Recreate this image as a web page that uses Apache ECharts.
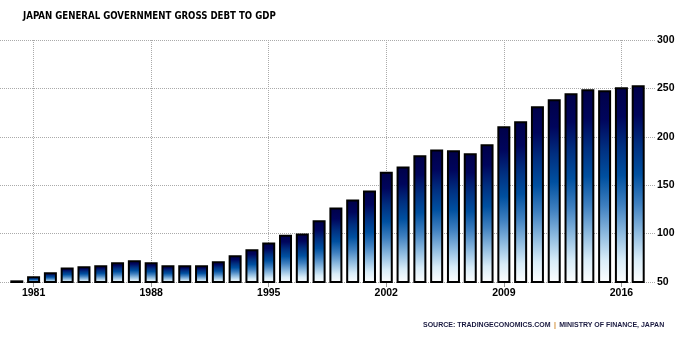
<!DOCTYPE html>
<html><head><meta charset="utf-8">
<script src="https://cdn.jsdelivr.net/npm/echarts@6/dist/echarts.min.js"></script>
<style>html,body{margin:0;padding:0;background:#fff}#c{width:690px;height:340px}</style>
</head><body><div id="c"></div>
<script>
const years = ['1979','1980','1981','1982','1983','1984','1985','1986','1987','1988','1989','1990','1991','1992','1993','1994','1995','1996','1997','1998','1999','2000','2001','2002','2003','2004','2005','2006','2007','2008','2009','2010','2011','2012','2013','2014','2015','2016','2017','2018'];
const debtToGdp = [null,51.7,55.9,60,65,66.2,67.2,70.3,72.4,70.3,67.2,67.2,67.2,71.4,77.6,83.8,90.7,98.9,100,113.7,126.9,135.1,144.4,164,169.2,180.9,186.8,186,183,192.3,210.8,216,231.5,238.7,244.9,249,248,251.1,253.2,null];
const yTicks = [50,100,150,200,250,300];
const titleText = 'JAPAN GENERAL GOVERNMENT GROSS DEBT TO GDP';
const sourceLeft = 'SOURCE: TRADINGECONOMICS.COM';
const sourceRight = 'MINISTRY OF FINANCE, JAPAN';

const showYear = (i, v) => ((+v) - 1981) % 7 === 0;
const chart = echarts.init(document.getElementById('c'));
chart.setOption({
  animation: false,
  title: { text: titleText, left: 18, top: 6,
    textStyle: { fontFamily: 'DejaVu Sans Condensed', fontSize: 9.6, fontWeight: 'bold', color: '#000' } },
  graphic: [{ type: 'text', left: 423, top: 319,
    style: { text: '{a|' + sourceLeft + '} {b||} {a|' + sourceRight + '}',
      rich: {
        a: { fontFamily: 'Liberation Sans', fontSize: 7, fontWeight: 'bold', fill: '#1a1a40' },
        b: { fontFamily: 'Liberation Sans', fontSize: 7, fontWeight: 'bold', fill: '#d08a30' }
      } } }],
  grid: { left: 0, right: 35, top: 40, bottom: 58 },
  xAxis: {
    type: 'category', data: years, boundaryGap: false,
    axisLine: { show: false },
    axisTick: { show: true, interval: showYear, length: 5, lineStyle: { color: '#999' } },
    axisLabel: { interval: showYear, margin: 6, fontFamily: 'Liberation Sans', fontSize: 10.5, fontWeight: 'bold', color: '#000' },
    splitLine: { show: true, interval: showYear, lineStyle: { color: '#aaa', type: [1, 1], width: 1 } }
  },
  yAxis: {
    type: 'value', position: 'right', min: yTicks[0], max: yTicks[yTicks.length-1], interval: 50,
    axisLine: { show: false }, axisTick: { show: false },
    axisLabel: { margin: 2, fontFamily: 'Liberation Sans', fontSize: 10.5, fontWeight: 'bold', color: '#000' },
    splitLine: { lineStyle: { color: '#aaa', type: [1, 1], width: 1 } }
  },
  series: [{
    type: 'bar', data: debtToGdp, barWidth: 13,
    itemStyle: {
      borderColor: '#000', borderWidth: 2,
      color: { type: 'linear', x: 0, y: 0, x2: 0, y2: 1, colorStops: [
        { offset: 0, color: '#000048' }, { offset: 0.15, color: '#00055c' },
        { offset: 0.3, color: '#002f80' }, { offset: 0.45, color: '#0050a0' },
        { offset: 0.6, color: '#3f80c0' }, { offset: 0.75, color: '#90bce0' },
        { offset: 0.88, color: '#d8ecf8' }, { offset: 1, color: '#ffffff' } ] }
    }
  }]
});
</script></body></html>
